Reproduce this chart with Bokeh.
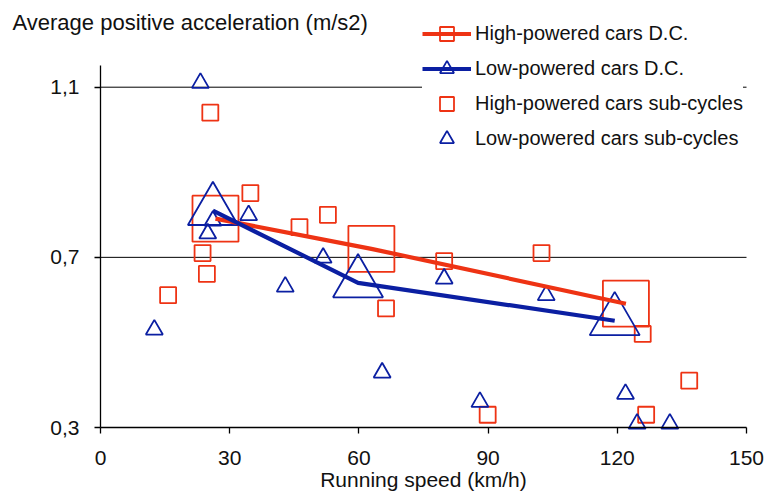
from bokeh.plotting import figure
from bokeh.models import (Range1d, FixedTicker, CustomJSTickFormatter, Legend, LegendItem, Label)
from bokeh.embed import file_html
from bokeh.resources import INLINE

# ---- data ----
speed_hp_dc = [26.7, 62.9, 122.0]
acc_hp_dc = [0.791, 0.720, 0.591]
speed_lp_dc = [26.1, 59.8, 119.4]
acc_lp_dc = [0.810, 0.640, 0.551]

speed_hp_sub = [25.5, 34.8, 52.8, 46.2, 23.7, 24.7, 15.7, 66.3, 79.8, 102.4, 125.9, 136.7, 126.7, 89.9]
acc_hp_sub = [1.040, 0.851, 0.800, 0.771, 0.710, 0.661, 0.611, 0.580, 0.691, 0.710, 0.520, 0.410, 0.330, 0.330]

speed_lp_sub = [23.2, 34.4, 12.5, 42.9, 51.7, 65.4, 24.9, 26.1, 79.8, 103.5, 88.1, 121.9, 124.6, 132.2]
acc_lp_sub = [1.110, 0.799, 0.530, 0.631, 0.699, 0.429, 0.756, 0.786, 0.650, 0.611, 0.360, 0.379, 0.309, 0.309]

x_ticks = [0, 30, 60, 90, 120, 150]
y_ticks = [0.3, 0.7, 1.1]
grid_ticks = [0.7, 1.1]
x_min, x_max = 0, 150
y_min, y_axis_top = 0.3, 1.15

RED = "#EE3314"
BLUE = "#0B1FA2"
FONT = "Liberation Sans"

# ---- layout (pixels) ----
FRAME_W, FRAME_H = 768, 494     # frame covers the whole canvas
PX_X0, PX_X150 = 100, 746       # pixels where x = 0 and x = 150
PX_Y03, PX_Y11 = 427, 86.7      # pixels (from top) where y = 0.3 and y = 1.1
px_per_x = (PX_X150 - PX_X0) / (x_max - x_min)
px_per_y = (PX_Y03 - PX_Y11) / (1.1 - y_min)
x_start = x_min - PX_X0 / px_per_x
x_end = x_max + (FRAME_W - PX_X150) / px_per_x
y_start = y_min - (FRAME_H - PX_Y03) / px_per_y
y_end = 1.1 + PX_Y11 / px_per_y

p = figure(frame_width=FRAME_W, frame_height=FRAME_H, output_backend="svg", toolbar_location=None,
           x_range=Range1d(x_start, x_end), y_range=Range1d(y_start, y_end),
           min_border_left=0, min_border_right=0, min_border_top=0, min_border_bottom=0)
p.outline_line_color = None
p.background_fill_color = "white"
p.border_fill_color = "white"

# axes
for ax in (p.xaxis[0], p.yaxis[0]):
    ax.axis_line_color = "black"
    ax.axis_line_width = 1.3
    ax.major_tick_line_color = "black"
    ax.major_tick_line_width = 1.3
    ax.major_tick_out = 6
    ax.major_tick_in = 0
    ax.minor_tick_line_color = None
    ax.major_label_text_font = FONT
    ax.major_label_text_font_size = "21px"
    ax.major_label_text_color = "#111111"

p.xaxis.ticker = FixedTicker(ticks=x_ticks)
p.xaxis.bounds = (x_min, x_max)
p.xaxis.fixed_location = y_min
p.yaxis.ticker = FixedTicker(ticks=y_ticks)
p.yaxis.bounds = (y_min, y_axis_top)
p.yaxis.fixed_location = x_min
p.yaxis.formatter = CustomJSTickFormatter(code="return tick.toFixed(1).replace('.', ',');")
p.xaxis.major_label_standoff = 17
p.yaxis.major_label_standoff = 15
p.xaxis.axis_label = "Running speed (km/h)"
p.xaxis.axis_label_text_font = FONT
p.xaxis.axis_label_text_font_size = "21px"
p.xaxis.axis_label_text_font_style = "normal"
p.xaxis.axis_label_text_color = "#111111"
p.xaxis.axis_label_standoff = 0

# horizontal gridlines from x = 0 to x = 150 only
p.xgrid.grid_line_color = None
p.ygrid.grid_line_color = None
p.segment(x0=[x_min] * len(grid_ticks), y0=grid_ticks, x1=[x_max] * len(grid_ticks), y1=grid_ticks,
          line_color="black", line_width=1, level="underlay")

# y-axis caption (horizontal, top-left)
p.add_layout(Label(x=x_min - (PX_X0 - 12) / px_per_x, y=1.1 + (PX_Y11 - 22) / px_per_y,
                   text="Average positive acceleration (m/s2)", text_font=FONT,
                   text_font_size="22px", text_color="#111111",
                   text_align="left", text_baseline="middle"))

# sub-cycles
r_hp_sub = p.scatter(speed_hp_sub, acc_hp_sub, marker="square", size=16,
                     fill_color=None, line_color=RED, line_width=1.8)
r_lp_sub = p.scatter(speed_lp_sub, acc_lp_sub, marker="triangle", size=17,
                     fill_color=None, line_color=BLUE, line_width=1.8)

# driving cycles
r_hp_big = p.scatter(speed_hp_dc, acc_hp_dc, marker="square", size=46,
                     fill_color=None, line_color=RED, line_width=1.8)
r_lp_big = p.scatter(speed_lp_dc, acc_lp_dc, marker="triangle", size=50,
                     fill_color=None, line_color=BLUE, line_width=1.8)
r_hp_line = p.line(speed_hp_dc, acc_hp_dc, line_color=RED, line_width=4.2)
r_lp_line = p.line(speed_lp_dc, acc_lp_dc, line_color=BLUE, line_width=4.2)

legend = Legend(items=[
    LegendItem(label="High-powered cars D.C.", renderers=[r_hp_line, r_hp_big]),
    LegendItem(label="Low-powered cars D.C.", renderers=[r_lp_line, r_lp_big]),
    LegendItem(label="High-powered cars sub-cycles", renderers=[r_hp_sub]),
    LegendItem(label="Low-powered cars sub-cycles", renderers=[r_lp_sub]),
], location=(422, 271 + (FRAME_H - PX_Y03)))
legend.padding = 25
legend.margin = 0
legend.spacing = 0
legend.glyph_width = 49
legend.glyph_height = 35
legend.label_height = 35
legend.label_standoff = 4
legend.label_text_font = FONT
legend.label_text_font_size = "20px"
legend.label_text_color = "#111111"
legend.border_line_color = None
legend.background_fill_color = "white"
legend.background_fill_alpha = 1.0
p.add_layout(legend, "center")

open("out.html", "w").write(file_html(p, INLINE))
